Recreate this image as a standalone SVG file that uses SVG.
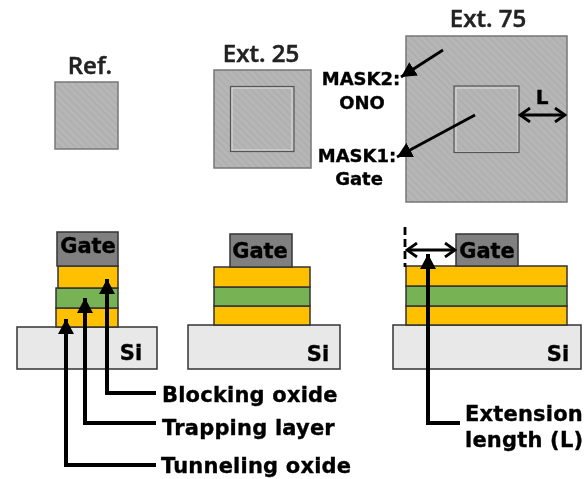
<svg xmlns="http://www.w3.org/2000/svg" width="587" height="479" viewBox="0 0 587 479">
<style>
text{font-family:"DejaVu Sans",sans-serif;font-weight:bold;fill:#000;stroke:#000;stroke-width:.35px;text-anchor:middle}
.t{font-family:"Open Sans","Noto Sans",sans-serif;font-weight:600;font-size:24px;fill:#222;stroke:#222;stroke-width:.5px}
.l{font-size:21px;text-anchor:start;letter-spacing:.2px}
.m{font-size:18px}
.n{font-size:21px}
.mask{fill:url(#h);stroke:#777;stroke-width:1.5}
.in{fill:none;stroke:#555;stroke-width:1.2}
.in2{fill:none;stroke:#ddd;stroke-width:1}
.g{fill:#808080;stroke:#333;stroke-width:1.5}
.y{fill:#ffc000;stroke:#333;stroke-width:1.5}
.v{fill:#77b255;stroke:#333;stroke-width:1.5}
.s{fill:#e8e8e8;stroke:#333;stroke-width:1.5}
.c{fill:none;stroke:#000;stroke-width:4}
.d{fill:none;stroke:#000;stroke-width:2.800}
</style>
<defs>
<filter id="b" x="0" y="0" width="100%" height="100%"><feGaussianBlur stdDeviation="0.5"/></filter>
<pattern id="h" width="5" height="5" patternUnits="userSpaceOnUse" patternTransform="rotate(45)">
<rect width="5" height="5" fill="#b6b6b6"/><rect width="5" height="1.6" fill="#aeaeae"/>
</pattern>
<marker id="a" markerUnits="userSpaceOnUse" markerWidth="16" markerHeight="16" refX="15" refY="8" orient="auto"><path d="M0 0L15 8L0 16Z" fill="#000"/></marker>
<marker id="o" markerUnits="userSpaceOnUse" markerWidth="14" markerHeight="16" refX="12" refY="8" orient="auto-start-reverse"><path d="M2 1L12 8L2 15" fill="none" stroke="#000" stroke-width="2.800"/></marker>
</defs>
<g filter="url(#b)">
<rect width="587" height="479" fill="#fff"/>
<g id="ref-mask"><rect class="mask" x="55" y="82" width="63" height="67"/><text class="t" x="90" y="74">Ref.</text></g>
<g id="ext25-mask"><rect class="mask" x="214" y="70" width="97" height="98"/><rect class="in2" x="232" y="88" width="60" height="62"/><rect class="in" x="230.500" y="86.500" width="63.500" height="65"/><text class="t" x="261" y="62">Ext. 25</text></g>
<g id="ext75-mask"><rect class="mask" x="406" y="36" width="161" height="166"/><rect class="in2" x="456" y="88" width="62" height="64"/><rect class="in" x="454" y="86" width="65" height="66.500"/><text class="t" x="488" y="27">Ext. 75</text></g>
<g id="mask2-label"><text class="m" x="361" y="85">MASK2:</text><text class="m" x="362" y="109">ONO</text></g>
<g id="mask1-label"><text class="m" x="357" y="162">MASK1:</text><text class="m" x="359" y="185">Gate</text></g>
<g id="l-label"><text x="542" y="104" font-size="20">L</text></g>
<g id="stack-ref">
<rect class="s" x="17" y="327" width="140" height="42"/><rect class="y" x="56" y="308" width="62" height="19"/><rect class="v" x="56" y="288" width="62" height="20"/><rect class="y" x="58" y="266" width="60" height="22"/><rect class="g" x="57" y="232" width="61" height="34"/>
<text class="n" x="88" y="253">Gate</text><text class="n" x="131" y="360">Si</text></g>
<g id="stack-ext25">
<rect class="s" x="188" y="325" width="152" height="44"/><rect class="y" x="214" y="306" width="96" height="19"/><rect class="v" x="214" y="287" width="96" height="19"/><rect class="y" x="214" y="267" width="96" height="20"/><rect class="g" x="230" y="234" width="62" height="33"/>
<text class="n" x="260" y="258">Gate</text><text class="n" x="318" y="361">Si</text></g>
<g id="stack-ext75">
<rect class="s" x="393" y="325" width="188" height="44"/><rect class="y" x="406" y="306" width="161" height="19"/><rect class="v" x="406" y="286" width="161" height="20"/><rect class="y" x="406" y="266" width="161" height="20"/><rect class="g" x="456" y="234" width="62" height="32"/>
<text class="n" x="487" y="258">Gate</text><text class="n" x="558" y="361">Si</text></g>
<g id="labels">
<text class="l" x="162" y="402">Blocking oxide</text><text class="l" x="162" y="435">Trapping layer</text><text class="l" x="161" y="473">Tunneling oxide</text>
<text class="l" x="465" y="421">Extension</text><text class="l" x="465" y="447">length (L)</text></g>
<g id="connectors">
<path class="c" d="M156 393H107V279" marker-end="url(#a)"/>
<path class="c" d="M156 423H85V298" marker-end="url(#a)"/>
<path class="c" d="M156 465H66V319" marker-end="url(#a)"/>
<path class="c" d="M460 423H428V254" marker-end="url(#a)"/>
<path class="d" d="M443 50L401 77" marker-end="url(#a)"/>
<path class="d" d="M475 115L397 157" marker-end="url(#a)"/>
<path class="d" d="M520 115H565" marker-start="url(#o)" marker-end="url(#o)"/>
<path class="d" d="M407 250H455" marker-start="url(#o)" marker-end="url(#o)"/>
<path d="M405 227V267" fill="none" stroke="#000" stroke-width="2.800" stroke-dasharray="8 4"/>
</g>
</g>
</svg>
